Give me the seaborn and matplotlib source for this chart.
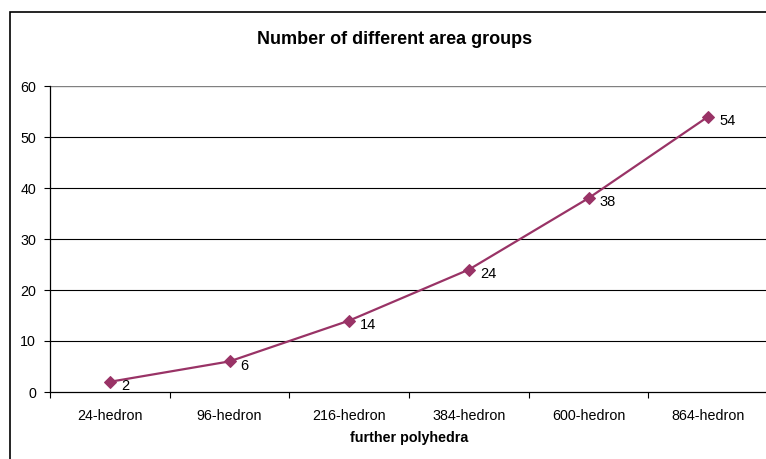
import pandas as pd
import matplotlib.pyplot as plt
import seaborn as sns
from matplotlib.patches import Rectangle

# Data
polyhedra = ["24-hedron", "96-hedron", "216-hedron", "384-hedron", "600-hedron", "864-hedron"]
area_groups = [2, 6, 14, 24, 38, 54]
y_ticks = [0, 10, 20, 30, 40, 50, 60]

df = pd.DataFrame({"polyhedron": polyhedra, "groups": area_groups})

sns.set_style("white")
plt.rcParams["font.family"] = ["Liberation Sans", "DejaVu Sans"]
plt.rcParams["text.color"] = "black"
plt.rcParams["xtick.color"] = "black"
plt.rcParams["ytick.color"] = "black"

line_color = "#993366"

fig = plt.figure(figsize=(7.66, 4.59), dpi=100)
ax = fig.add_axes([50 / 766, 67 / 459, 718 / 766, 306 / 459])

sns.lineplot(x="polyhedron", y="groups", data=df, ax=ax, sort=False,
             color=line_color, linewidth=1.6, marker="D", markersize=6,
             markeredgecolor=line_color, zorder=3)

# Value labels
for i, v in enumerate(area_groups):
    ax.annotate(str(v), (i, v), xytext=(8, -3), textcoords="offset points",
                ha="left", va="center", fontsize=10.5, color="black")

ax.set_xlim(-0.5, len(polyhedra) - 0.5)
ax.set_ylim(0, 60)
ax.set_yticks(y_ticks)
ax.set_xticks(range(len(polyhedra)))
ax.set_xticklabels(polyhedra)
ax.set_xticks([i + 0.5 for i in range(-1, len(polyhedra))], minor=True)
ax.tick_params(axis="x", which="major", length=0, pad=12, labelsize=10.3)
ax.tick_params(axis="x", which="minor", length=4, width=0.8, color="black", direction="out", bottom=True)
ax.tick_params(axis="y", length=4, width=0.8, color="black", direction="out", pad=6,
               labelsize=10.3, left=True)

# Gridlines
for y in y_ticks[1:-1]:
    ax.axhline(y, color="black", linewidth=0.8, zorder=1)
ax.axhline(60, color="#808080", linewidth=1.0, zorder=1)

for side in ["top", "right"]:
    ax.spines[side].set_visible(False)
ax.spines["left"].set_color("black")
ax.spines["bottom"].set_color("black")
ax.spines["left"].set_linewidth(0.9)
ax.spines["bottom"].set_linewidth(0.9)

ax.set_xlabel("")
ax.set_ylabel("")

fig.text(395 / 766, 1 - 40 / 459, "Number of different area groups",
         ha="center", va="center", fontsize=13, fontweight="bold")
fig.text(409 / 766, 1 - 438 / 459, "further polyhedra",
         ha="center", va="center", fontsize=10.3, fontweight="bold")

# Outer chart border (cut off at right and bottom)
fig.patches.append(Rectangle((10 / 766, -0.1), 1.2, 1.1 - 12 / 459,
                             transform=fig.transFigure, fill=False,
                             edgecolor="black", linewidth=1.2))

plt.savefig("out.png", dpi=100)
